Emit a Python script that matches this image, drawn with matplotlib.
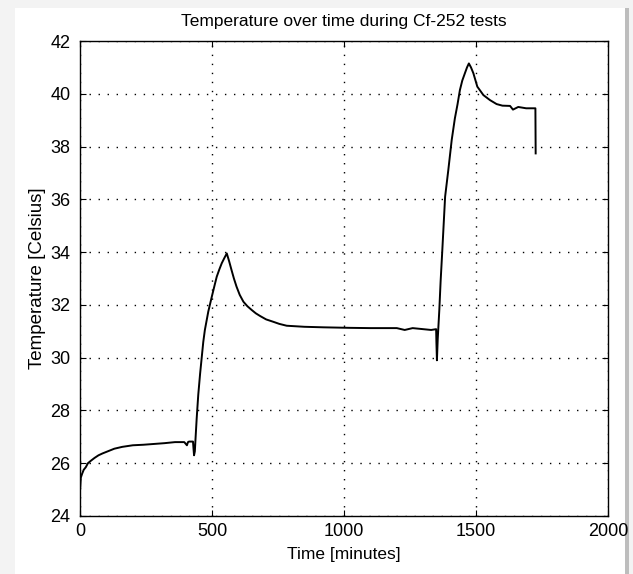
import numpy as np
import matplotlib.pyplot as plt
from matplotlib.patches import Rectangle

# temperature log, minutes vs celsius
t_min = [0, 1, 3, 8, 14, 22, 30, 42, 55, 70, 85, 105, 130, 160, 200, 240, 280,
         320, 360, 395, 405, 409, 413, 428, 430, 432, 435, 438, 442, 448,
         455, 461, 467, 473, 486, 499, 510, 518, 528, 537, 547, 556,
         565, 574, 583, 593, 605, 619, 634, 650, 666, 682, 705, 732, 755,
         783, 850, 922, 1023, 1100, 1200, 1230, 1260, 1300, 1330, 1349, 1350,
         1352, 1355, 1361, 1366, 1372, 1383, 1395, 1408, 1420, 1430, 1439, 1448,
         1458, 1466, 1473, 1481, 1490, 1505, 1528, 1553, 1578, 1600, 1629, 1640,
         1660, 1690, 1717, 1725, 1726]
temp_c = [25.0, 25.1, 25.45, 25.6, 25.75, 25.85, 26.0, 26.1, 26.2, 26.3, 26.37, 26.45,
          26.55, 26.62, 26.68, 26.7, 26.73, 26.76, 26.8, 26.8, 26.68, 26.8, 26.82,
          26.82, 26.55, 26.3, 26.45, 27.0, 27.7, 28.6,
          29.4, 30.0, 30.6, 31.05, 31.75, 32.3, 32.75, 33.07, 33.35, 33.58, 33.78, 33.95,
          33.65, 33.32, 33.0, 32.69, 32.38, 32.12, 31.95, 31.81, 31.68, 31.58, 31.45,
          31.36, 31.28, 31.21, 31.17, 31.15, 31.13, 31.12, 31.12, 31.05, 31.12, 31.08,
          31.05, 31.08, 30.6,
          29.9, 30.7, 31.8, 32.9, 34.0, 36.1, 37.1, 38.25, 39.07, 39.6, 40.14, 40.5,
          40.78, 41.0, 41.15, 41.0, 40.78, 40.27, 39.95, 39.76, 39.61, 39.55, 39.54, 39.4,
          39.5, 39.45, 39.45, 39.45, 37.74]

plt.rcParams['font.family'] = ['Liberation Sans', 'DejaVu Sans']

fig = plt.figure(figsize=(6.33, 5.74), dpi=100, facecolor='#f3f3f3')
# white page behind the axes like the screenshot
fig.patches.append(Rectangle((15 / 633, 0), 610 / 633, 1 - 8 / 574,
                             transform=fig.transFigure, facecolor='white',
                             edgecolor='none', zorder=-2))
fig.patches.append(Rectangle((625 / 633, 0), 4 / 633, 1 - 8 / 574,
                             transform=fig.transFigure, facecolor='#bdbdbd',
                             edgecolor='none', zorder=-1))

ax = fig.add_axes([80 / 633, 1 - 516 / 574, 528 / 633, 475 / 574])
ax.plot(t_min, temp_c, color='black', linewidth=1.4)

ax.set_xlim(0, 2000)
ax.set_ylim(24, 42)
ax.set_xticks(np.arange(0, 2001, 500))
ax.set_yticks(np.arange(24, 43, 2))
ax.grid(True, linestyle=(0, (1, 5.5)), color='black', linewidth=1.0)
ax.tick_params(direction='in', length=4, labelsize=13, top=True, right=True)
ax.tick_params(axis='y', pad=7)
ax.tick_params(axis='x', pad=5)
for sp in ax.spines.values():
    sp.set_linewidth(1.0)

ax.set_title('Temperature over time during Cf-252 tests', fontsize=12.5, pad=11)
ax.set_xlabel('Time [minutes]', fontsize=12.5, labelpad=5)
ax.set_ylabel('Temperature [Celsius]', fontsize=13.5, labelpad=3)

fig.savefig('out.png', dpi=100, facecolor=fig.get_facecolor())
